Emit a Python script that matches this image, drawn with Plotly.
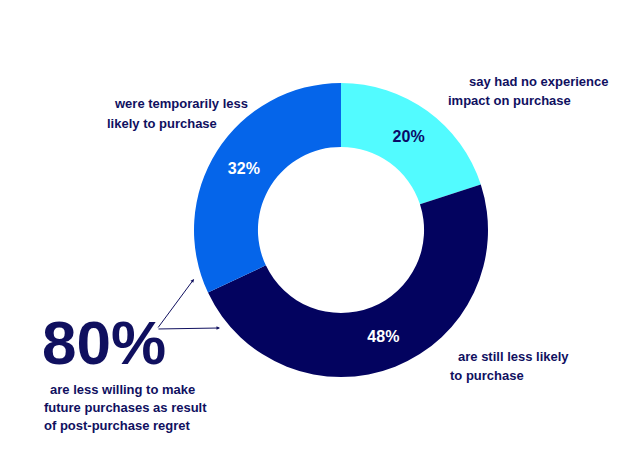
import plotly.graph_objects as go

labels = ["had no impact on purchase", "still less likely to purchase", "temporarily less likely to purchase"]
values = [20, 48, 32]
colors = ["#52FBFF", "#03035F", "#0565EA"]
text_colors = ["#0A0A66", "#FFFFFF", "#FFFFFF"]

W, H = 638, 465

def px(x):
    return x / W

def py(y):
    return 1 - y / H

fig = go.Figure()
fig.add_trace(go.Pie(
    labels=labels, values=values, hole=0.565, sort=False, direction="clockwise",
    rotation=0,
    marker=dict(colors=colors, line=dict(width=0)),
    texttemplate="<b>%{value}%</b>", textposition="inside",
    insidetextfont=dict(color=text_colors, size=16, family="Liberation Sans"),
    insidetextorientation="horizontal",
    domain=dict(x=[px(194), px(488)], y=[py(377), py(83)]),
    showlegend=False, hoverinfo="skip",
))

navy = "#10105F"
fnt = dict(family="Liberation Sans", size=13, color=navy)
big = dict(family="Liberation Sans", size=62, color=navy)

notes = [
    ("<b>say had no experience</b>", 610, 82, "right"),
    ("<b>impact on purchase</b>", 446, 101, "left"),
    ("<b>were temporarily less</b>", 112, 104, "left"),
    ("<b>likely to purchase</b>", 105, 124, "left"),
    ("<b>are still less likely</b>", 456, 356, "left"),
    ("<b>to purchase</b>", 448, 375, "left"),
    ("<b>are less willing to make</b>", 48, 389, "left"),
    ("<b>future purchases as result</b>", 42, 407, "left"),
    ("<b>of post-purchase regret</b>", 42, 425, "left"),
]
for t, x, y, anc in notes:
    fig.add_annotation(text=t, x=px(x), y=py(y), xref="paper", yref="paper",
                       xanchor=anc, yanchor="middle", showarrow=False, font=fnt)

fig.add_annotation(text="<b>80%</b>", x=px(40), y=py(342), xref="paper", yref="paper",
                   xanchor="left", yanchor="middle", showarrow=False, font=big)

ox, oy = 157, 329
for tx, ty in [(194, 279), (220, 328)]:
    fig.add_annotation(x=px(tx), y=py(ty), ax=ox - tx, ay=oy - ty,
                       xref="paper", yref="paper", axref="pixel", ayref="pixel",
                       text="", showarrow=True, arrowhead=2, arrowsize=0.7,
                       arrowwidth=1, arrowcolor=navy)

fig.update_layout(width=W, height=H, margin=dict(l=0, r=0, t=0, b=0),
                  paper_bgcolor="white", plot_bgcolor="white")
fig.write_html("out.html")
